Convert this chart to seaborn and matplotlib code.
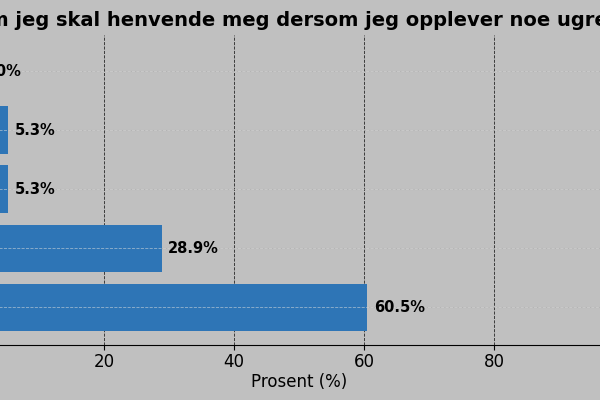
import matplotlib
matplotlib.use("Agg")
import matplotlib.pyplot as plt
import seaborn as sns
import pandas as pd

categories = ["Helt uenig", "Litt uenig", "Verken enig eller uenig", "Litt enig", "Helt enig"]
values = [0.0, 5.3, 5.3, 28.9, 60.5]
title = "Jeg vet hvem jeg skal henvende meg dersom jeg opplever noe ugreit hos arbeidsgiver"

df = pd.DataFrame({"kategori": categories, "prosent": values})

bg = "#c0c0c0"
fig = plt.figure(figsize=(6, 4), dpi=100, facecolor=bg)
ax = fig.add_axes([-26/600, 55/400, 650/600, 310/400])
ax.set_facecolor(bg)
sns.barplot(data=df, x="prosent", y="kategori", color="#2e75b6", saturation=1, width=0.8, ax=ax, zorder=2)
ax.set_xlim(0, 100)
ax.set_ylim(4.64, -0.61)
ax.set_xticks([20, 40, 60, 80])
ax.tick_params(axis="x", labelsize=12, pad=2)
ax.set_xlabel("Prosent (%)", fontsize=12, labelpad=2)
ax.set_ylabel("")
ax.grid(axis="x", color="black", linestyle="--", linewidth=0.6, alpha=0.8, zorder=1)
for i in range(len(categories)):
    ax.axhline(i, color="#b4b4b4", linestyle="-", linewidth=0.8, zorder=1)
    ax.axhline(i, color="#dddddd", linestyle="--", linewidth=0.6, alpha=0.6, zorder=3)
for s in ["top", "right"]:
    ax.spines[s].set_visible(False)
for i, v in enumerate(values):
    ax.text(v + 1, i, f"{v:.1f}%", va="center", ha="left", fontsize=10.5, fontweight="bold")
fig.text(0.5 + 40/600, 0.95, title, ha="center", va="center", fontsize=14, fontweight="bold")
fig.savefig("out.png", dpi=100, facecolor=bg)
